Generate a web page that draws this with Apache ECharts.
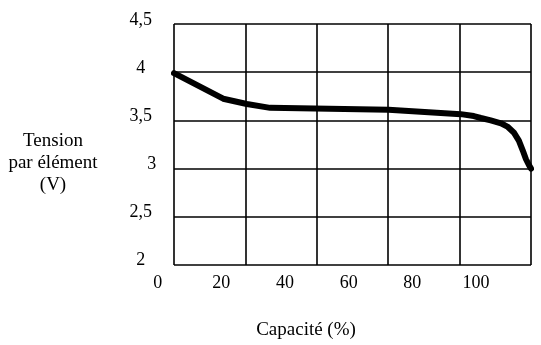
<!DOCTYPE html>
<html lang="fr">
<head>
  <meta charset="UTF-8">
  <title>Tension par élément</title>
  <style>
    html, body { margin: 0; padding: 0; background: #fff; }
    #chart { width: 541px; height: 345px; }
  </style>
</head>
<body>
  <div id="chart"></div>
  <script src="https://cdn.jsdelivr.net/npm/echarts@6/dist/echarts.min.js"></script>
  <script>
    // capacité (%) et tension (V)
    const capacity = [5.2, 20.6, 28.0, 35.3, 72.4, 95.0, 99.1, 101.3, 104.4, 107.6, 109.6, 111.6, 113.2, 114.4, 115.4, 116.3, 117.0];
    const voltage  = [3.99, 3.725, 3.67, 3.63, 3.61, 3.565, 3.545, 3.525, 3.50, 3.47, 3.436, 3.375, 3.29, 3.19, 3.10, 3.04, 3.0];

    // graduations
    const xTicks = [0, 20, 40, 60, 80, 100];
    const yTicks = [2, 2.5, 3, 3.5, 4, 4.5];
    const yTickLabels = ['2', '2,5', '3', '3,5', '4', '4,5'];

    const serif = "'Liberation Serif', 'Times New Roman', serif";

    const myChart = echarts.init(document.getElementById('chart'));

    const option = {
      animation: false,
      backgroundColor: '#fff',
      grid: [
        // cadre + courbe
        { left: 174, right: 10, top: 24, bottom: 80 },
        // graduations, décalées comme sur la figure
        { left: 157.7, right: 65, top: 20, bottom: 85 }
      ],
      xAxis: [
        { type: 'value', gridIndex: 0, min: 5.2, max: 117, show: false },
        {
          type: 'value', gridIndex: 0, min: 0, max: 5, interval: 1,
          axisLine: { show: false }, axisTick: { show: false }, axisLabel: { show: false },
          splitLine: { show: true, lineStyle: { color: '#000', width: 1.6 } }
        },
        {
          type: 'value', gridIndex: 1, min: xTicks[0], max: xTicks[xTicks.length - 1], interval: 20,
          axisLine: { show: false }, axisTick: { show: false }, splitLine: { show: false },
          axisLabel: { color: '#000', fontFamily: serif, fontSize: 18, margin: 14 }
        }
      ],
      yAxis: [
        {
          type: 'value', gridIndex: 0, min: 2, max: 4.5, interval: 0.5,
          axisLine: { show: false }, axisTick: { show: false }, axisLabel: { show: false },
          splitLine: { show: true, lineStyle: { color: '#000', width: 1.6 } }
        },
        {
          type: 'value', gridIndex: 1, min: 2, max: 4.5, interval: 0.5,
          axisLine: { show: false }, axisTick: { show: false }, splitLine: { show: false },
          axisLabel: {
            color: '#000', fontFamily: serif, fontSize: 18, margin: 17, align: 'center',
            formatter: function (v) {
              const i = yTicks.indexOf(v);
              const s = i >= 0 ? yTickLabels[i] : '';
              return v === 3 ? '{r|' + s + '}' : s;
            },
            rich: { r: { color: '#000', fontFamily: serif, fontSize: 18, padding: [0, 0, 0, 22] } }
          }
        }
      ],
      graphic: [
        {
          type: 'text',
          style: {
            text: 'Tension\npar élément\n(V)', x: 53, y: 163,
            align: 'center', verticalAlign: 'middle',
            font: '19px ' + serif, lineHeight: 22, fill: '#000'
          }
        },
        {
          type: 'text',
          style: {
            text: 'Capacité (%)', x: 306, y: 330,
            align: 'center', verticalAlign: 'middle',
            font: '19px ' + serif, fill: '#000'
          }
        }
      ],
      series: [
        {
          type: 'line',
          xAxisIndex: 0, yAxisIndex: 0,
          data: capacity.map((c, i) => [c, voltage[i]]),
          showSymbol: false,
          smooth: false,
          clip: false,
          lineStyle: { color: '#000', width: 6, cap: 'round', join: 'round' }
        }
      ]
    };

    myChart.setOption(option);
  </script>
</body>
</html>
